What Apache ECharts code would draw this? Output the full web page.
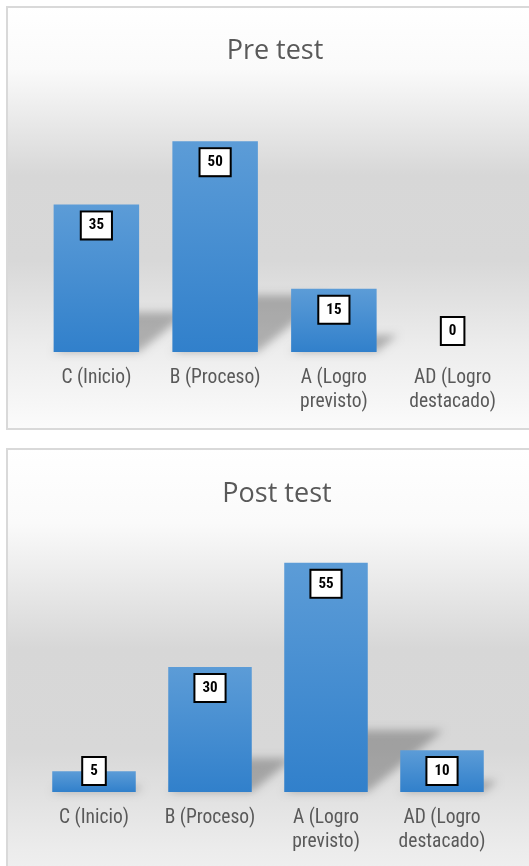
<!DOCTYPE html>
<html>
<head>
<meta charset="utf-8">
<script src="https://cdn.jsdelivr.net/npm/echarts@6/dist/echarts.min.js"></script>
<style>
html,body{margin:0;padding:0;background:#ffffff;}
#chart{width:529px;height:866px;}
</style>
</head>
<body>
<div id="chart"></div>
<script>
// ---- data ----
var categories = ['C (Inicio)', 'B (Proceso)', 'A (Logro\nprevisto)', 'AD (Logro\ndestacado)'];
var titles = ['Pre test', 'Post test'];
var preTest = [35, 50, 15, 0];
var postTest = [5, 30, 55, 10];

var chart = echarts.init(document.getElementById('chart'));

var narrow = '"Liberation Sans Narrow", "Arial Narrow", "Roboto Condensed", Roboto, sans-serif';

function panelFill() {
  return new echarts.graphic.LinearGradient(0, 0, 0, 1, [
    {offset: 0, color: '#ffffff'},
    {offset: 0.15, color: '#fafafa'},
    {offset: 0.4, color: '#d7d7d7'},
    {offset: 0.6, color: '#d8d8d8'},
    {offset: 0.8, color: '#ececec'},
    {offset: 1, color: '#fbfbfb'}
  ]);
}

function barData(values) {
  return values.map(function (v) {
    var small = v <= 10;
    return {
      value: v,
      label: {position: small ? 'insideBottom' : 'insideTop', distance: 8}
    };
  });
}

var OFF = 3000;
function shadowSeries(values, idx) {
  return {
    type: 'custom',
    xAxisIndex: idx,
    yAxisIndex: idx,
    clip: false,
    silent: true,
    z: 1,
    data: values.map(function (v, i) { return [i, v]; }),
    renderItem: function (params, api) {
      var base = api.coord([api.value(0), 0]);
      var top = api.coord([api.value(0), api.value(1)]);
      var half = api.size([1, 0])[0] * 0.36;
      var h = base[1] - top[1];
      var dy = h * 0.27, dx = h * 0.33;
      var xl = base[0] - half - OFF, xr = base[0] + half - OFF;
      return {
        type: 'polygon',
        shape: {points: [[xl, base[1]], [xr, base[1]], [xr + dx, base[1] - dy], [xl + dx, base[1] - dy]]},
        style: {
          fill: '#000',
          shadowBlur: 9,
          shadowColor: 'rgba(0,0,0,0.26)',
          shadowOffsetX: OFF,
          shadowOffsetY: 0
        }
      };
    }
  };
}

function barSeries(values, idx) {
  return {
    type: 'bar',
    xAxisIndex: idx,
    yAxisIndex: idx,
    z: 3,
    barWidth: '72%',
    data: barData(values),
    itemStyle: {
      color: new echarts.graphic.LinearGradient(0, 0, 0, 1, [
        {offset: 0, color: '#5c9cd7'},
        {offset: 1, color: '#3180cb'}
      ])
    },
    label: {
      show: true,
      color: '#000000',
      fontFamily: narrow,
      fontWeight: 'bold',
      fontSize: 15,
      lineHeight: 14,
      backgroundColor: '#ffffff',
      borderColor: '#000000',
      borderWidth: 2,
      padding: [6, 7]
    }
  };
}

function xAxis(idx) {
  return {
    type: 'category',
    gridIndex: idx,
    data: categories,
    axisLine: {show: false},
    axisTick: {show: false},
    axisLabel: {
      color: '#595959',
      fontFamily: narrow,
      fontSize: 19.5,
      lineHeight: 24,
      margin: 14,
      interval: 0
    }
  };
}

function yAxis(idx) {
  return {
    type: 'value',
    gridIndex: idx,
    min: 0,
    max: 60,
    show: false,
    splitLine: {show: false}
  };
}

var option = {
  animation: false,
  backgroundColor: '#ffffff',
  graphic: [
    {type: 'rect', z: -10, shape: {x: 7, y: 7, width: 560, height: 422}, style: {fill: panelFill(), stroke: '#d9d9d9', lineWidth: 2}},
    {type: 'rect', z: -10, shape: {x: 7, y: 449, width: 560, height: 500}, style: {fill: panelFill(), stroke: '#d9d9d9', lineWidth: 2}}
  ],
  title: [
    {text: titles[0], left: 270, top: 30, textAlign: 'center', textStyle: {fontFamily: '"Open Sans", sans-serif', fontWeight: 'normal', fontSize: 27, lineHeight: 32, color: '#595959'}},
    {text: titles[1], left: 272, top: 473, textAlign: 'center', textStyle: {fontFamily: '"Open Sans", sans-serif', fontWeight: 'normal', fontSize: 27, lineHeight: 32, color: '#595959'}}
  ],
  grid: [
    {left: 37, width: 475, top: 99, height: 253},
    {left: 36, width: 464, top: 542, height: 250}
  ],
  xAxis: [xAxis(0), xAxis(1)],
  yAxis: [yAxis(0), yAxis(1)],
  series: [
    shadowSeries(preTest, 0),
    barSeries(preTest, 0),
    shadowSeries(postTest, 1),
    barSeries(postTest, 1)
  ]
};
chart.setOption(option);
</script>
</body>
</html>
